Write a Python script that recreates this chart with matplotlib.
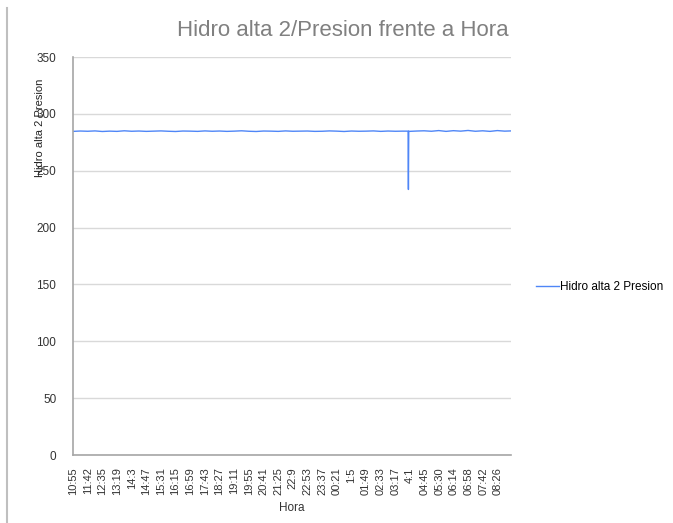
import matplotlib
matplotlib.use("Agg")
import matplotlib.pyplot as plt
from matplotlib.lines import Line2D

plt.rcParams['font.family'] = ['Liberation Sans', 'DejaVu Sans']

# Category tick labels (every 44 samples)
hora_labels = ["10:55", "11:42", "12:35", "13:19", "14:3", "14:47", "15:31", "16:15",
               "16:59", "17:43", "18:27", "19:11", "19:55", "20:41", "21:25", "22:9",
               "22:53", "23:37", "00:21", "1:5", "01:49", "02:33", "03:17", "4:1",
               "04:45", "05:30", "06:14", "06:58", "07:42", "08:26"]
label_step = 44

# Sample index of each reading and its pressure value
muestra = [0, 22, 44, 66, 88, 110, 132, 154, 176, 198, 220, 242, 264, 286, 308, 330,
           352, 374, 396, 418, 440, 462, 484, 506, 528, 550, 572, 594, 616, 638, 660,
           682, 704, 726, 748, 770, 792, 814, 836, 858, 880, 902, 924, 946, 968, 990,
           1006, 1007, 1008, 1010, 1032, 1054, 1076, 1098, 1120, 1142, 1164, 1186,
           1208, 1230, 1252, 1274, 1296, 1315]
presion = [284.6, 284.9, 284.7, 285.0, 284.5, 284.8, 284.6, 285.1, 284.7, 284.9, 284.6,
           284.8, 285.0, 284.7, 284.5, 284.9, 284.8, 284.6, 285.0, 284.7, 284.9, 284.6,
           284.8, 285.1, 284.7, 284.5, 284.9, 284.8, 284.6, 285.0, 284.7, 284.8, 284.9,
           284.6, 284.7, 285.0, 284.8, 284.5, 284.9, 284.7, 284.8, 285.0, 284.6, 284.9,
           284.7, 284.8, 284.8, 233.5, 284.9, 284.6, 284.9, 285.1, 284.7, 285.3, 284.6,
           285.2, 284.8, 285.4, 284.7, 285.1, 284.6, 285.3, 284.8, 285.0]

n_total = 1315

fig = plt.figure(figsize=(6.73, 5.23), dpi=100)
ax = fig.add_axes([73/673, 1 - 455/523, (511-73)/673, (455-57)/523])

ax.plot(muestra, presion, color='#4f86f7', lw=1.0, label='Hidro alta 2 Presion')

ax.set_xlim(0, n_total)
ax.set_ylim(0, 350)
ax.set_yticks(range(0, 351, 50))
ax.set_xticks([i * label_step for i in range(len(hora_labels))])
ax.set_xticklabels(hora_labels, rotation=90, fontsize=8, color='#333333')
ax.tick_params(axis='y', labelsize=8.5, colors='#333333', length=0, pad=12)
ax.tick_params(axis='x', length=0, pad=9)

ax.grid(axis='y', color='#d9d9d9', lw=1)
ax.set_axisbelow(True)
for s in ['top', 'right']:
    ax.spines[s].set_visible(False)
for s in ['left', 'bottom']:
    ax.spines[s].set_color('#a6a6a6')
    ax.spines[s].set_linewidth(1.2)

ax.set_xlabel('Hora', fontsize=8.5, color='#333333', labelpad=5)

fig.text(343/673, 1 - 31/523, 'Hidro alta 2/Presion frente a Hora', fontsize=16,
         color='#808080', ha='center', va='center')
fig.text(40/673, 1 - 128/523, 'Hidro alta 2 Presion', fontsize=8, color='#222222',
         rotation=90, ha='center', va='center')

fig.legend(loc='center left', bbox_to_anchor=(525/673, 1 - 287/523), frameon=False,
           fontsize=8.5, handlelength=2.0, handletextpad=0.1)

fig.add_artist(Line2D([7/673, 7/673], [0, 1 - 8/523], color='#bfbfbf', lw=1.5,
                      transform=fig.transFigure))

fig.savefig('out.png', dpi=100)
